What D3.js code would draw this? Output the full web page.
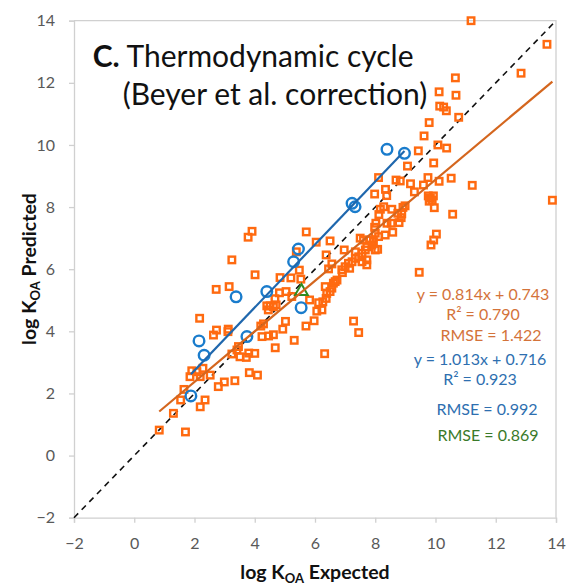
<!DOCTYPE html>
<html>
<head>
<meta charset="utf-8">
<script src="https://cdn.jsdelivr.net/npm/d3@7"></script>
<style>
  body { margin: 0; background: #fff; }
  svg text { font-family: Lato, "Open Sans", sans-serif; }
</style>
</head>
<body>
<svg id="chart" width="568" height="587"></svg>
<script>
// Axis ticks (both axes share the same range)
const xTickValues = [-2, 0, 2, 4, 6, 8, 10, 12, 14];
const yTickValues = [-2, 0, 2, 4, 6, 8, 10, 12, 14];

// All compounds: expected vs. predicted log KOA (orange squares)
const orangeX = [0.83, 1.30, 1.70, 1.54, 1.65, 2.19, 2.35, 1.85, 1.91, 2.08, 2.28, 2.19, 2.52, 2.79, 2.99, 3.34, 3.82, 4.09,
  3.24, 3.51, 3.72, 4.00, 3.46, 3.41, 4.68, 3.80, 2.17, 2.73, 2.63, 3.12, 3.11, 2.72, 3.15, 3.24, 3.78, 3.91, 4.01,
  4.84, 5.20, 5.48, 5.53, 5.71, 5.38, 6.04, 6.50, 6.97, 6.37, 4.82, 5.04, 4.67, 5.23, 4.40, 4.51, 4.62, 4.71, 4.45,
  5.82, 4.29, 4.20, 5.02, 4.93, 4.62, 4.46, 4.24, 5.31, 5.70, 5.97, 6.06, 6.23, 6.12, 6.26, 6.37, 6.39, 6.50, 6.56,
  6.61, 6.67, 6.73, 6.34, 6.32, 7.28, 7.45, 6.91, 7.15, 6.45, 6.56, 7.11, 6.89, 7.00, 7.23, 7.34, 7.45, 7.56, 7.67,
  7.72, 7.34, 7.72, 7.72, 7.56, 7.89, 7.94, 8.00, 8.08, 7.50, 7.61, 7.81, 8.00, 8.11, 8.33, 8.58, 8.39, 8.53, 8.02,
  7.98, 8.79, 8.17, 8.28, 8.55, 8.75, 8.12, 8.86, 8.92, 8.99, 8.88, 7.98, 8.34, 8.38, 8.11, 8.69, 8.83, 9.07, 9.17,
  9.30, 9.60, 9.75, 10.12, 10.52, 11.22, 9.76, 9.83, 9.89, 9.79, 9.93, 9.96, 10.57, 10.03, 9.94, 9.85, 9.46, 9.94,
  9.43, 10.08, 10.37, 9.62, 9.79, 10.77, 10.36, 10.27, 10.14, 10.68, 10.12, 10.66, 12.84, 13.70, 11.18, 13.88];
const orangeY = [0.82, 1.36, 0.76, 1.79, 2.13, 1.57, 1.79, 2.54, 2.73, 2.70, 2.81, 2.54, 2.59, 2.22, 2.37, 2.41, 2.67, 2.59,
  3.27, 3.18, 3.16, 3.29, 3.51, 3.40, 3.47, 3.30, 4.42, 4.04, 3.88, 4.07, 3.99, 5.35, 5.44, 6.30, 7.03, 7.22, 5.82,
  5.73, 5.72, 5.97, 5.68, 7.20, 6.56, 6.87, 6.91, 6.62, 6.46, 5.24, 5.28, 5.05, 5.12, 4.82, 4.82, 4.79, 4.85, 4.69,
  5.01, 4.24, 4.17, 4.32, 4.07, 3.89, 3.85, 3.83, 3.71, 4.17, 4.34, 4.65, 4.69, 4.92, 4.95, 5.06, 5.22, 5.28, 5.39,
  5.55, 5.60, 5.65, 5.44, 3.28, 4.33, 3.96, 5.89, 6.03, 6.01, 6.17, 6.19, 5.98, 6.08, 6.24, 6.35, 6.40, 6.51, 6.62,
  6.72, 6.56, 6.30, 6.14, 6.24, 6.78, 6.89, 6.62, 6.64, 7.00, 6.94, 6.94, 7.16, 7.05, 7.10, 7.19, 7.48, 7.48, 7.48,
  7.35, 7.50, 7.93, 8.01, 7.93, 7.80, 7.76, 7.66, 7.99, 8.04, 7.78, 8.42, 8.57, 8.37, 8.95, 8.87, 8.84, 9.32, 8.75,
  8.49, 8.71, 8.95, 8.83, 8.93, 8.70, 8.36, 8.29, 8.22, 8.19, 8.36, 7.98, 7.77, 7.13, 6.94, 6.78, 5.90, 9.42,
  9.81, 10.00, 9.90, 10.29, 10.72, 10.89, 11.10, 11.22, 11.25, 11.60, 11.71, 12.16, 12.31, 13.24, 14.00, 8.22];

// Subset of compounds (blue circles)
const blueX = [1.88, 2.32, 2.15, 3.38, 3.74, 4.40, 5.29, 5.45, 5.54, 7.23, 7.33, 8.39, 8.97];
const blueY = [1.92, 3.23, 3.69, 5.11, 3.83, 5.28, 6.24, 6.65, 4.76, 8.12, 8.01, 9.86, 9.73];

// Single reference compound (green triangle)
const greenX = [5.55];
const greenY = [5.32];

// Linear fits as reported in the annotations
const orangeSlope = 0.814, orangeIntercept = 0.743;
const blueSlope = 1.013, blueIntercept = 0.716;

// Annotation texts
const orangeLabels = ["y = 0.814x + 0.743", "R² = 0.790", "RMSE = 1.422"];
const blueLabels = ["y = 1.013x + 0.716", "R² = 0.923", "RMSE = 0.992"];
const greenLabels = ["RMSE = 0.869"];

const svg = d3.select("#chart");
const plotLeft = 74, plotRight = 556, plotTop = 20.7, plotBottom = 517.7;

const x = d3.scaleLinear().domain([-2, 14]).range([plotLeft, plotRight]);
const y = d3.scaleLinear().domain([-2, 14]).range([plotBottom, plotTop]);

const axisColor = "#d0d0d0";
const tickTextColor = "#595959";

// Plot frame (top and right)
svg.append("path")
  .attr("d", `M${plotLeft},${plotTop}H${plotRight}V${plotBottom}`)
  .attr("fill", "none").attr("stroke", axisColor).attr("stroke-width", 1.3);

// Axes
const gx = svg.append("g").attr("transform", `translate(0,${plotBottom})`)
  .call(d3.axisBottom(x).tickValues(xTickValues).tickSize(5).tickPadding(15).tickSizeOuter(5));
const gy = svg.append("g").attr("transform", `translate(${plotLeft},0)`)
  .call(d3.axisLeft(y).tickValues(yTickValues).tickSize(5).tickPadding(14).tickSizeOuter(5));
[gx, gy].forEach(g => {
  g.selectAll("path.domain").attr("stroke", axisColor).attr("stroke-width", 1.3);
  g.selectAll(".tick line").attr("stroke", axisColor).attr("stroke-width", 1.3);
  g.selectAll(".tick text").attr("fill", tickTextColor)
    .style("font-size", "16px").style("font-family", "Lato, sans-serif");
});

// 1:1 reference line
svg.append("line")
  .attr("x1", x(-2)).attr("y1", y(-2)).attr("x2", x(14)).attr("y2", y(14))
  .attr("stroke", "#111").attr("stroke-width", 1.6).attr("stroke-dasharray", "6,5");

// Orange squares
const orangeData = d3.zip(orangeX, orangeY);
const sq = 6.5;
svg.append("g").selectAll("rect").data(orangeData).join("rect")
  .attr("x", d => x(d[0]) - sq / 2).attr("y", d => y(d[1]) - sq / 2)
  .attr("width", sq).attr("height", sq)
  .attr("fill", "none").attr("stroke", "#ff6a10").attr("stroke-width", 2.4);

// Blue circles
const blueData = d3.zip(blueX, blueY);
svg.append("g").selectAll("circle").data(blueData).join("circle")
  .attr("cx", d => x(d[0])).attr("cy", d => y(d[1])).attr("r", 5.3)
  .attr("fill", "none").attr("stroke", "#1a7ccc").attr("stroke-width", 2.4);

// Green triangle
const greenData = d3.zip(greenX, greenY);
const tri = d3.symbol().type(d3.symbolTriangle).size(70);
svg.append("g").selectAll("path").data(greenData).join("path")
  .attr("transform", d => `translate(${x(d[0])},${y(d[1]) + 1})`)
  .attr("d", tri)
  .attr("fill", "none").attr("stroke", "#2e8b22").attr("stroke-width", 2);

// Trend lines over the range of each data set
const line = d3.line().x(d => x(d[0])).y(d => y(d[1]));
const oExt = d3.extent(orangeX);
svg.append("path")
  .datum(oExt.map(v => [v, orangeSlope * v + orangeIntercept]))
  .attr("d", line).attr("stroke", "#d4661e").attr("stroke-width", 2.2).attr("fill", "none");
const bExt = d3.extent(blueX);
svg.append("path")
  .datum(bExt.map(v => [v, blueSlope * v + blueIntercept]))
  .attr("d", line).attr("stroke", "#1f67ad").attr("stroke-width", 2.2).attr("fill", "none");

// Fit annotations
function annotate(lines, xs, ys, color) {
  lines.forEach((t, i) => {
    svg.append("text").attr("x", xs[i]).attr("y", ys[i])
      .attr("text-anchor", "middle").attr("fill", color)
      .style("font-size", "16px").text(t);
  });
}
annotate(orangeLabels, [483, 483, 491], [300, 320, 341], "#d4733a");
annotate(blueLabels, [480, 480, 487], [365, 385, 415], "#2e6fb0");
annotate(greenLabels, [488], [441], "#3a7a2a");

// Panel title
const title = svg.append("text").attr("x", 92.7).attr("y", 66.7)
  .attr("fill", "#111").style("font-size", "30px");
title.append("tspan").attr("font-weight", "bold").text("C.");
title.append("tspan").text(" Thermodynamic cycle");
svg.append("text").attr("x", 122.7).attr("y", 105)
  .attr("fill", "#111").style("font-size", "30px").text("(Beyer et al. correction)");

// Axis titles
const xt = svg.append("text").attr("x", 315).attr("y", 579)
  .attr("text-anchor", "middle").attr("font-weight", "bold").attr("fill", "#111")
  .style("font-size", "19.5px");
xt.append("tspan").text("log K");
xt.append("tspan").attr("dy", 4).style("font-size", "13px").text("OA");
xt.append("tspan").attr("dy", -4).text(" Expected");

const yt = svg.append("text").attr("transform", "translate(36,269) rotate(-90)")
  .attr("text-anchor", "middle").attr("font-weight", "bold").attr("fill", "#111")
  .style("font-size", "19.5px");
yt.append("tspan").text("log K");
yt.append("tspan").attr("dy", 4).style("font-size", "13px").text("OA");
yt.append("tspan").attr("dy", -4).text(" Predicted");
</script>
</body>
</html>
